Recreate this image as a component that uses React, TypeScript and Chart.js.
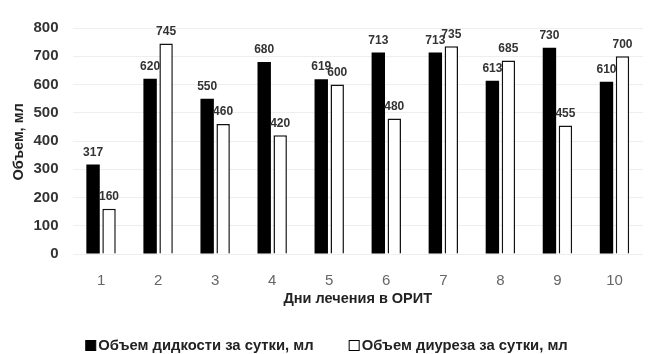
import React, { useEffect, useRef } from "react";
import { Chart, registerables } from "chart.js";

Chart.register(...registerables);

const days = ["1", "2", "3", "4", "5", "6", "7", "8", "9", "10"];
const fluidVolume = [317, 620, 550, 680, 619, 713, 713, 613, 730, 610];
const diuresisVolume = [160, 745, 460, 420, 600, 480, 735, 685, 455, 700];
const fluidLabel = "Объем дидкости за сутки, мл";
const diuresisLabel = "Объем диуреза за сутки, мл";
const yTitle = "Объем, мл";
const xTitle = "Дни лечения в ОРИТ";

const FONT = "'Liberation Sans', Arial, sans-serif";

const valueLabels = {
  id: "valueLabels",
  afterDatasetsDraw(chart: any) {
    const ctx = chart.ctx;
    ctx.save();
    ctx.font = `bold 12px ${FONT}`;
    ctx.fillStyle = "#333";
    ctx.textAlign = "center";
    ctx.textBaseline = "bottom";
    chart.data.datasets.forEach((ds: any, i: number) => {
      const meta = chart.getDatasetMeta(i);
      meta.data.forEach((el: any, j: number) => {
        ctx.fillText(String(ds.data[j]), el.x, el.y - 6);
      });
    });
    ctx.restore();
  },
};

const axisTitles = {
  id: "axisTitles",
  afterDraw(chart: any) {
    const ctx = chart.ctx;
    const area = chart.chartArea;
    ctx.save();
    ctx.fillStyle = "#222";
    ctx.textAlign = "center";
    ctx.textBaseline = "middle";
    ctx.font = `bold 14.5px ${FONT}`;
    ctx.fillText(xTitle, (area.left + area.right) / 2, area.bottom + 45);
    ctx.translate(19, (area.top + area.bottom) / 2 + 1);
    ctx.rotate(-Math.PI / 2);
    ctx.font = `bold 14.5px ${FONT}`;
    ctx.fillText(yTitle, 0, 0);
    ctx.restore();
  },
};

const bottomLegend = {
  id: "bottomLegend",
  afterDraw(chart: any) {
    const ctx = chart.ctx;
    ctx.save();
    ctx.font = `bold 14.8px ${FONT}`;
    ctx.textBaseline = "middle";
    ctx.textAlign = "left";
    const box = 10;
    const gapText = 3;
    const gapItems = 35;
    const items = chart.data.datasets.map((ds: any) => ({
      text: ds.label,
      fill: ds.backgroundColor,
      w: box + gapText + ctx.measureText(ds.label).width,
    }));
    const total = items.reduce((s: number, it: any) => s + it.w, 0) + gapItems * (items.length - 1);
    let x = 326.5 - total / 2;
    const y = chart.height - 9;
    items.forEach((it: any) => {
      ctx.fillStyle = it.fill;
      ctx.fillRect(x + 0.5, y - box / 2 + 0.5, box, box);
      ctx.strokeStyle = "#000";
      ctx.lineWidth = 1;
      ctx.strokeRect(x + 0.5, y - box / 2 + 0.5, box, box);
      ctx.fillStyle = "#222";
      ctx.fillText(it.text, x + box + gapText, y + 1);
      x += it.w + gapItems;
    });
    ctx.restore();
  },
};

export default function App() {
  const ref = useRef<HTMLCanvasElement | null>(null);
  useEffect(() => {
    if (!ref.current) return;
    const chart = new Chart(ref.current, {
      type: "bar",
      data: {
        labels: days,
        datasets: [
          {
            label: fluidLabel,
            data: fluidVolume,
            backgroundColor: "#000",
            borderColor: "#000",
            borderWidth: 0,
            categoryPercentage: 0.56,
            barPercentage: 0.84,
          },
          {
            label: diuresisLabel,
            data: diuresisVolume,
            backgroundColor: "#fff",
            borderColor: "#111",
            borderWidth: 1.5,
            categoryPercentage: 0.56,
            barPercentage: 0.84,
          },
        ],
      },
      options: {
        animation: false,
        responsive: false,
        maintainAspectRatio: false,
        layout: { padding: { top: 28, right: 5, left: 19.5, bottom: 54 } },
        plugins: {
          tooltip: { enabled: false },
          legend: { display: false },
        },
        scales: {
          x: {
            grid: { display: false },
            border: { display: false },
            ticks: {
              color: "#666",
              padding: 10,
              font: { family: FONT, size: 15 },
            },
          },
          y: {
            min: 0,
            max: 800,
            ticks: {
              stepSize: 100,
              color: "#333",
              padding: 14,
              font: { family: FONT, size: 15, weight: "bold" },
            },
            grid: { color: "#eeeeee", drawTicks: false },
            border: { display: false },
          },
        },
      },
      plugins: [valueLabels, axisTitles, bottomLegend],
    });
    return () => chart.destroy();
  }, []);
  return (
    <div style={{ position: "fixed", left: 0, top: 0, width: 648, height: 354, background: "#fff" }}>
      <canvas ref={ref} width={648} height={354} style={{ width: 648, height: 354 }} />
    </div>
  );
}
